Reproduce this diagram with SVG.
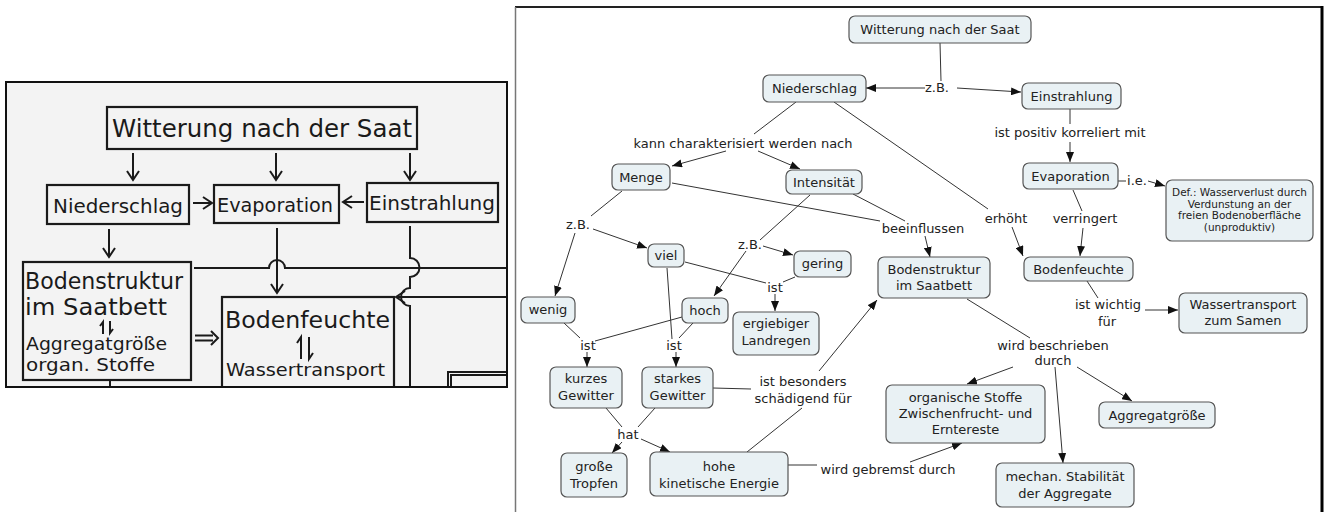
<svg xmlns="http://www.w3.org/2000/svg" width="1329" height="512" viewBox="0 0 1329 512">
<style>
.n rect{fill:#e9f1f4;stroke:#555;stroke-width:1.2}
.n text,.lbl{font-family:"DejaVu Sans",Verdana,sans-serif;font-size:13px;fill:#222;text-anchor:middle}
.small{font-size:10.5px!important}
.c line{stroke:#333;stroke-width:1}
.h{font-family:"DejaVu Sans",sans-serif;fill:#1a1a1a}
.hl{fill:none;stroke:#1a1a1a;stroke-width:2}
.hb{fill:none;stroke:#1a1a1a;stroke-width:2.2}
</style>
<defs>
<marker id="a" markerUnits="userSpaceOnUse" markerWidth="10" markerHeight="8" refX="10" refY="4" orient="auto"><path d="M0,0 L10,4 L0,8 z" fill="#111"/></marker>
<marker id="v" markerUnits="userSpaceOnUse" markerWidth="12" markerHeight="14" refX="10" refY="7" orient="auto"><path d="M1,1 L10,7 L1,13" fill="none" stroke="#1a1a1a" stroke-width="2"/></marker>
<clipPath id="lc"><rect x="6" y="82" width="501" height="305"/></clipPath>
</defs>
<rect width="1329" height="512" fill="#fff"/>

<!-- left scanned diagram -->
<g id="scan">
<rect x="6" y="82" width="501" height="305" fill="#f3f3f3"/>
<g clip-path="url(#lc)">
<g id="l-witterung"><rect class="hb" x="107" y="107" width="310" height="42"/><text class="h" x="112" y="137" font-size="24" textLength="300" lengthAdjust="spacingAndGlyphs">Witterung nach der Saat</text></g>
<g id="l-niederschlag"><rect class="hb" x="47" y="185" width="142" height="39"/><text class="h" x="53" y="213" font-size="20" textLength="130" lengthAdjust="spacingAndGlyphs">Niederschlag</text></g>
<g id="l-evaporation"><rect class="hb" x="214" y="185" width="125" height="38"/><text class="h" x="217" y="212" font-size="20" textLength="116" lengthAdjust="spacingAndGlyphs">Evaporation</text></g>
<g id="l-einstrahlung"><rect class="hb" x="367" y="183" width="131" height="39"/><text class="h" x="369" y="210" font-size="20" textLength="126" lengthAdjust="spacingAndGlyphs">Einstrahlung</text></g>
<g id="l-bodenstruktur"><rect class="hb" x="23" y="262" width="168" height="118"/>
<text class="h" x="25" y="289" font-size="23" textLength="158" lengthAdjust="spacingAndGlyphs">Bodenstruktur</text>
<text class="h" x="25" y="315" font-size="23" textLength="142" lengthAdjust="spacingAndGlyphs">im Saatbett</text>
<path class="hl" stroke-width="1.6" d="M103,334 V322 L100,326 M110,321 V333 L113,329"/>
<text class="h" x="26" y="350" font-size="18" textLength="141" lengthAdjust="spacingAndGlyphs">Aggregatgröße</text>
<text class="h" x="26" y="371" font-size="18" textLength="129" lengthAdjust="spacingAndGlyphs">organ. Stoffe</text></g>
<g id="l-bodenfeuchte"><rect class="hb" x="222" y="297" width="172" height="100"/>
<text class="h" x="225" y="328" font-size="23" textLength="165" lengthAdjust="spacingAndGlyphs">Bodenfeuchte</text>
<path class="hl" d="M301,359 V337 L297,343 M309,337 V359 L313,353"/>
<text class="h" x="226" y="376" font-size="18" textLength="159" lengthAdjust="spacingAndGlyphs">Wassertransport</text></g>
<g id="l-box"><path class="hl" stroke-width="1.6" d="M448,392 V372 H510 M451,392 V375 H510"/></g>
<g id="l-connectors">
<line class="hl" x1="133" y1="153" x2="133" y2="180" marker-end="url(#v)"/>
<line class="hl" x1="276" y1="153" x2="276" y2="180" marker-end="url(#v)"/>
<line class="hl" x1="410" y1="153" x2="410" y2="180" marker-end="url(#v)"/>
<line class="hl" x1="193" y1="203" x2="212" y2="203" marker-end="url(#v)"/>
<line class="hl" x1="364" y1="202" x2="343" y2="202" marker-end="url(#v)"/>
<line class="hl" x1="109" y1="229" x2="109" y2="257" marker-end="url(#v)"/>
<line class="hl" x1="277" y1="228" x2="277" y2="293" marker-end="url(#v)"/>
<path class="hl" d="M194,268 H269 A8,8 0 0 1 285,268 H507"/>
<path class="hl" d="M410,226 V258 A9,9 0 0 1 410,277 V288 A9,9 0 0 0 410,306 V390"/>
<line class="hl" x1="507" y1="297" x2="396" y2="297" marker-end="url(#v)"/>
<path class="hl" d="M195,335.5 H213 M195,340.5 H213 M211,331 L218,338 L211,345"/>
<line class="hl" x1="110" y1="380" x2="110" y2="390"/>
</g>
</g>
<rect x="6" y="82" width="501" height="305" fill="none" stroke="#111" stroke-width="2"/>
</g>

<!-- right panel frame -->
<g id="frame">
<line x1="515" y1="7" x2="1323" y2="7" stroke="#222" stroke-width="2"/>
<line x1="515.5" y1="7" x2="515.5" y2="512" stroke="#777" stroke-width="1.5"/>
<line x1="1322" y1="6" x2="1322" y2="512" stroke="#000" stroke-width="3"/>
</g>

<g id="connectors" class="c">
<line x1="940" y1="43" x2="941" y2="81"/>
<line x1="925" y1="88" x2="866" y2="88" marker-end="url(#a)"/>
<line x1="957" y1="88" x2="1021" y2="92" marker-end="url(#a)"/>
<line x1="1070" y1="109" x2="1070" y2="124"/>
<line x1="1070" y1="142" x2="1070" y2="162" marker-end="url(#a)"/>
<line x1="1118" y1="181" x2="1126" y2="181"/>
<line x1="1148" y1="181" x2="1165" y2="186" marker-end="url(#a)"/>
<line x1="834" y1="102" x2="988" y2="209"/>
<line x1="1012" y1="227" x2="1023" y2="256" marker-end="url(#a)"/>
<line x1="1073" y1="190" x2="1082" y2="211"/>
<line x1="1083" y1="228" x2="1080" y2="256" marker-end="url(#a)"/>
<line x1="796" y1="102" x2="754" y2="134"/>
<line x1="726" y1="151" x2="672" y2="166" marker-end="url(#a)"/>
<line x1="758" y1="151" x2="800" y2="169" marker-end="url(#a)"/>
<line x1="672" y1="183" x2="880" y2="221"/>
<line x1="853" y1="194" x2="905" y2="221"/>
<line x1="925" y1="236" x2="930" y2="257" marker-end="url(#a)"/>
<line x1="622" y1="191" x2="591" y2="216"/>
<line x1="593" y1="229" x2="647" y2="248" marker-end="url(#a)"/>
<line x1="575" y1="233" x2="555" y2="296" marker-end="url(#a)"/>
<line x1="810" y1="195" x2="760" y2="240"/>
<line x1="763" y1="246" x2="793" y2="255" marker-end="url(#a)"/>
<line x1="746" y1="251" x2="714" y2="296" marker-end="url(#a)"/>
<line x1="685" y1="262" x2="766" y2="283"/>
<line x1="795" y1="277" x2="783" y2="282"/>
<line x1="775" y1="294" x2="775" y2="311" marker-end="url(#a)"/>
<line x1="564" y1="323" x2="580" y2="338"/>
<line x1="682" y1="317" x2="595" y2="341"/>
<line x1="587" y1="352" x2="587" y2="367" marker-end="url(#a)"/>
<line x1="667" y1="268" x2="672" y2="339"/>
<line x1="693" y1="323" x2="679" y2="338"/>
<line x1="676" y1="352" x2="676" y2="367" marker-end="url(#a)"/>
<line x1="713" y1="388" x2="751" y2="389"/>
<line x1="747" y1="452" x2="802" y2="408"/>
<line x1="819" y1="371" x2="877" y2="300" marker-end="url(#a)"/>
<line x1="606" y1="408" x2="622" y2="427"/>
<line x1="655" y1="408" x2="638" y2="427"/>
<line x1="622" y1="442" x2="612" y2="453" marker-end="url(#a)"/>
<line x1="641" y1="439" x2="670" y2="452" marker-end="url(#a)"/>
<line x1="788" y1="465" x2="817" y2="465"/>
<line x1="910" y1="462" x2="962" y2="443" marker-end="url(#a)"/>
<line x1="967" y1="299" x2="1030" y2="338"/>
<line x1="1013" y1="367" x2="967" y2="384" marker-end="url(#a)"/>
<line x1="1055" y1="367" x2="1063" y2="463" marker-end="url(#a)"/>
<line x1="1077" y1="367" x2="1132" y2="401" marker-end="url(#a)"/>
<line x1="1087" y1="281" x2="1098" y2="298"/>
<line x1="1145" y1="310" x2="1178" y2="310" marker-end="url(#a)"/>
</g>

<g id="labels">
<text class="lbl" x="937" y="92">z.B.</text>
<text class="lbl" x="743" y="148">kann charakterisiert werden nach</text>
<text class="lbl" x="1070" y="137">ist positiv korreliert mit</text>
<text class="lbl" x="1137" y="185">i.e.</text>
<text class="lbl" x="1006" y="223">erhöht</text>
<text class="lbl" x="1085" y="223">verringert</text>
<text class="lbl" x="923" y="233">beeinflussen</text>
<text class="lbl" x="578" y="229">z.B.</text>
<text class="lbl" x="750" y="249">z.B.</text>
<text class="lbl" x="775" y="292">ist</text>
<text class="lbl" x="588" y="350">ist</text>
<text class="lbl" x="674" y="350">ist</text>
<text class="lbl" x="803" y="386">ist besonders</text>
<text class="lbl" x="803" y="403">schädigend für</text>
<text class="lbl" x="628" y="439">hat</text>
<text class="lbl" x="888" y="474">wird gebremst durch</text>
<text class="lbl" x="1053" y="350">wird beschrieben</text>
<text class="lbl" x="1053" y="365">durch</text>
<text class="lbl" x="1108" y="309">ist wichtig</text>
<text class="lbl" x="1107" y="326">für</text>
</g>

<g id="witterung" class="n"><rect x="849" y="16" width="182" height="27" rx="6"/><text x="940" y="34">Witterung nach der Saat</text></g>
<g id="niederschlag" class="n"><rect x="763" y="75" width="103" height="27" rx="6"/><text x="814.5" y="93">Niederschlag</text></g>
<g id="einstrahlung" class="n"><rect x="1022" y="83" width="99" height="26" rx="6"/><text x="1071.5" y="101">Einstrahlung</text></g>
<g id="evaporation" class="n"><rect x="1023" y="163" width="95" height="26" rx="6"/><text x="1070.5" y="181">Evaporation</text></g>
<g id="def" class="n"><rect x="1166" y="180" width="147" height="61" rx="6"/>
<text class="small" x="1239.5" y="196">Def.: Wasserverlust durch</text>
<text class="small" x="1239.5" y="207.5">Verdunstung an der</text>
<text class="small" x="1239.5" y="219">freien Bodenoberfläche</text>
<text class="small" x="1239.5" y="230.5">(unproduktiv)</text></g>
<g id="menge" class="n"><rect x="612" y="164" width="58" height="26" rx="6"/><text x="641" y="182">Menge</text></g>
<g id="intensitaet" class="n"><rect x="786" y="170" width="76" height="24" rx="6"/><text x="824" y="187">Intensität</text></g>
<g id="bodenstruktur" class="n"><rect x="878" y="257" width="112" height="41" rx="6"/><text x="934" y="274">Bodenstruktur</text><text x="934" y="290">im Saatbett</text></g>
<g id="bodenfeuchte" class="n"><rect x="1024" y="257" width="109" height="24" rx="6"/><text x="1078.5" y="274">Bodenfeuchte</text></g>
<g id="wassertransport" class="n"><rect x="1179" y="293" width="128" height="40" rx="6"/><text x="1243" y="309">Wassertransport</text><text x="1243" y="325">zum Samen</text></g>
<g id="viel" class="n"><rect x="648" y="244" width="36" height="23" rx="6"/><text x="666" y="260">viel</text></g>
<g id="gering" class="n"><rect x="794" y="251" width="57" height="26" rx="6"/><text x="822.5" y="268">gering</text></g>
<g id="wenig" class="n"><rect x="521" y="297" width="54" height="26" rx="6"/><text x="548" y="314">wenig</text></g>
<g id="hoch" class="n"><rect x="682" y="298" width="46" height="25" rx="6"/><text x="705" y="315">hoch</text></g>
<g id="ergiebiger" class="n"><rect x="733" y="312" width="86" height="43" rx="6"/><text x="776" y="328">ergiebiger</text><text x="776" y="345">Landregen</text></g>
<g id="kurzes" class="n"><rect x="550" y="367" width="72" height="41" rx="6"/><text x="586" y="383">kurzes</text><text x="586" y="400">Gewitter</text></g>
<g id="starkes" class="n"><rect x="642" y="367" width="71" height="41" rx="6"/><text x="677.5" y="383">starkes</text><text x="677.5" y="400">Gewitter</text></g>
<g id="grosse" class="n"><rect x="561" y="453" width="66" height="44" rx="6"/><text x="594" y="471">große</text><text x="594" y="488">Tropfen</text></g>
<g id="hohe" class="n"><rect x="650" y="452" width="138" height="44" rx="6"/><text x="719" y="471">hohe</text><text x="719" y="488">kinetische Energie</text></g>
<g id="organische" class="n"><rect x="886" y="385" width="159" height="58" rx="6"/><text x="965.5" y="402">organische Stoffe</text><text x="965.5" y="418">Zwischenfrucht- und</text><text x="965.5" y="434">Erntereste</text></g>
<g id="aggregatgroesse" class="n"><rect x="1099" y="402" width="116" height="26" rx="6"/><text x="1157" y="420">Aggregatgröße</text></g>
<g id="mechan" class="n"><rect x="996" y="463" width="138" height="44" rx="6"/><text x="1065" y="481">mechan. Stabilität</text><text x="1065" y="498">der Aggregate</text></g>
</svg>
